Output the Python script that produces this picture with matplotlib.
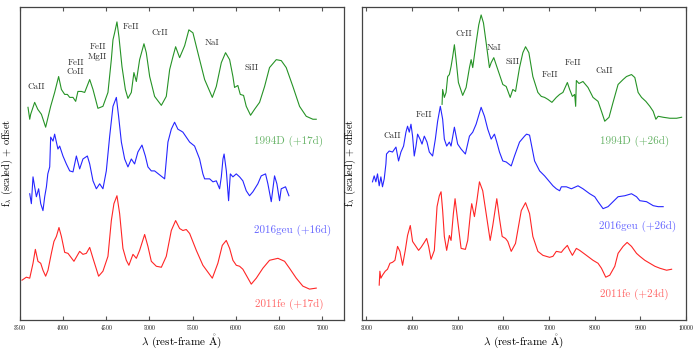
import matplotlib
matplotlib.use("Agg")
import matplotlib.pyplot as plt
import numpy as np

plt.rcParams["font.family"] = ["cmr10", "DejaVu Serif"]
plt.rcParams["mathtext.fontset"] = "cm"
plt.rcParams["axes.formatter.use_mathtext"] = True

# ---- left panel: ~+17d ----
wl_94d_17 = [3597, 3617, 3628, 3674, 3710, 3752, 3801, 3859, 3905, 3951, 3983, 4021, 4052, 4079, 4117,
             4148, 4174, 4214, 4252, 4310, 4348, 4405, 4463, 4521, 4560, 4579, 4598, 4625, 4648, 4683,
             4722, 4752, 4791, 4821, 4849, 4887, 4937, 4964, 5003, 5060, 5138, 5195, 5234, 5272, 5303,
             5349, 5407, 5456, 5503, 5560, 5638, 5727, 5773, 5831, 5880, 5927, 5965, 5984, 6022, 6050,
             6088, 6119, 6169, 6215, 6273, 6331, 6388, 6466, 6524, 6581, 6658, 6735, 6812, 6889, 6928]
f_94d_17 = [214, 202, 207, 219, 212, 207, 194, 215, 229, 245, 232, 227, 227, 224, 224,
            220, 230, 230, 229, 242, 232, 213, 215, 229, 262, 282, 289, 300, 285, 255,
            232, 223, 229, 249, 240, 262, 278, 269, 245, 225, 216, 225, 252, 265, 275,
            264, 276, 292, 289, 269, 242, 224, 235, 259, 269, 262, 245, 234, 236, 227,
            226, 215, 206, 212, 219, 235, 254, 262, 261, 254, 235, 215, 205, 202, 202]

wl_16geu_16 = [3617, 3636, 3655, 3674, 3694, 3720, 3744, 3770, 3790, 3810, 3826, 3848, 3859, 3886, 3905,
               3925, 3943, 3963, 4001, 4040, 4079, 4117, 4156, 4194, 4232, 4283, 4310, 4348, 4387, 4425,
               4463, 4502, 4541, 4579, 4618, 4644, 4676, 4714, 4752, 4791, 4829, 4867, 4914, 4953, 4983,
               5022, 5060, 5176, 5214, 5253, 5291, 5329, 5369, 5387, 5465, 5522, 5580, 5618, 5638, 5696,
               5734, 5773, 5811, 5831, 5850, 5863, 5889, 5915, 5935, 5965, 6004, 6042, 6080, 6119, 6157,
               6196, 6253, 6292, 6342, 6369, 6408, 6446, 6473, 6504, 6523, 6573, 6612]
f_16geu_16 = [127, 117, 144, 134, 124, 132, 117, 110, 124, 134, 147, 154, 184, 180, 187,
              179, 172, 175, 165, 157, 150, 149, 165, 152, 162, 165, 157, 140, 132, 137,
              132, 150, 185, 215, 224, 205, 179, 162, 154, 162, 157, 169, 176, 165, 154,
              150, 150, 142, 179, 192, 199, 192, 190, 189, 179, 175, 162, 147, 142, 142,
              139, 140, 132, 144, 162, 167, 150, 120, 147, 144, 147, 144, 140, 130, 125,
              129, 137, 145, 147, 137, 119, 145, 137, 120, 132, 134, 125]

wl_11fe_17 = [3528, 3578, 3617, 3655, 3682, 3712, 3744, 3770, 3801, 3828, 3867, 3897, 3925, 3955, 3983,
              4021, 4059, 4128, 4194, 4232, 4271, 4310, 4348, 4413, 4463, 4521, 4560, 4590, 4625, 4656,
              4694, 4733, 4763, 4810, 4849, 4887, 4945, 4983, 5022, 5080, 5138, 5195, 5253, 5303, 5349,
              5387, 5426, 5465, 5542, 5618, 5727, 5791, 5842, 5888, 5927, 5965, 6004, 6042, 6080, 6119,
              6177, 6235, 6311, 6388, 6485, 6562, 6619, 6697, 6773, 6850, 6928]
f_11fe_17 = [40, 43, 42, 57, 71, 59, 57, 50, 44, 50, 67, 79, 84, 93, 84,
             68, 67, 59, 69, 66, 67, 73, 62, 44, 49, 64, 100, 117, 125, 107,
             72, 60, 55, 66, 62, 70, 86, 74, 59, 54, 53, 64, 90, 100, 92,
             90, 91, 87, 70, 55, 42, 57, 75, 80, 72, 60, 55, 54, 51, 45,
             36, 42, 52, 60, 62, 59, 52, 42, 34, 31, 32]

# ---- right panel: ~+25d ----
wl_94d_26 = [4656, 4669, 4706, 4744, 4779, 4816, 4853, 4889, 4926, 4963, 5014, 5108, 5183, 5256, 5293,
             5328, 5402, 5460, 5512, 5563, 5622, 5694, 5732, 5789, 5855, 5914, 5987, 6061, 6149, 6206,
             6266, 6353, 6426, 6485, 6558, 6645, 6755, 6830, 6902, 6975, 7063, 7159, 7232, 7304, 7401,
             7451, 7511, 7561, 7583, 7598, 7656, 7743, 7853, 7963, 8073, 8148, 8220, 8314, 8402, 8512,
             8622, 8696, 8806, 8879, 8951, 9026, 9120, 9208, 9281, 9340, 9390, 9500, 9647, 9794, 9904]
f_94d_26 = [217, 232, 224, 229, 245, 247, 255, 265, 277, 262, 239, 226, 234, 254, 262,
            254, 279, 297, 307, 299, 279, 254, 259, 264, 255, 247, 237, 235, 224, 232,
            230, 254, 269, 275, 269, 245, 229, 225, 224, 222, 219, 224, 227, 229, 239,
            232, 225, 227, 215, 241, 238, 240, 234, 224, 220, 210, 200, 204, 219, 237,
            242, 245, 247, 244, 229, 224, 220, 215, 210, 202, 205, 204, 203, 203, 204]

wl_16geu_26 = [3132, 3169, 3206, 3242, 3279, 3316, 3351, 3389, 3426, 3439, 3498, 3571, 3646, 3703, 3755,
               3813, 3865, 3900, 3938, 3975, 4010, 4047, 4085, 4120, 4173, 4217, 4267, 4326, 4377, 4449,
               4509, 4559, 4618, 4669, 4706, 4757, 4816, 4853, 4926, 4998, 5073, 5167, 5256, 5328, 5402,
               5512, 5585, 5657, 5732, 5804, 5855, 5914, 5987, 6061, 6171, 6243, 6353, 6463, 6507, 6573,
               6645, 6683, 6793, 6902, 7012, 7085, 7159, 7232, 7269, 7379, 7489, 7634, 7743, 7891, 8000,
               8073, 8183, 8292, 8402, 8512, 8659, 8806, 8916, 8989, 9136, 9281, 9390, 9500]
f_16geu_26 = [139, 145, 139, 147, 135, 144, 134, 142, 157, 167, 170, 169, 174, 160, 169,
              175, 189, 195, 189, 197, 185, 165, 175, 187, 182, 177, 185, 179, 169, 165,
              182, 200, 215, 202, 182, 175, 179, 175, 194, 177, 172, 167, 185, 189, 197,
              214, 205, 192, 182, 187, 179, 169, 160, 159, 155, 165, 179, 185, 187, 186,
              169, 160, 150, 145, 139, 135, 132, 130, 134, 134, 132, 135, 132, 127, 124,
              119, 112, 114, 119, 124, 125, 127, 124, 120, 119, 115, 114, 114]

wl_11fe_24 = [3279, 3294, 3316, 3351, 3411, 3461, 3514, 3571, 3624, 3681, 3733, 3791, 3850, 3900, 3960,
              4010, 4069, 4142, 4195, 4267, 4318, 4362, 4414, 4487, 4546, 4596, 4634, 4669, 4706, 4757,
              4816, 4853, 4904, 4941, 4998, 5073, 5167, 5218, 5277, 5306, 5365, 5416, 5475, 5547, 5622,
              5710, 5767, 5855, 5914, 5973, 6046, 6096, 6171, 6265, 6391, 6485, 6573, 6645, 6755, 6865,
              7012, 7085, 7159, 7269, 7319, 7401, 7451, 7511, 7598, 7671, 7818, 7963, 8073, 8148, 8242,
              8330, 8440, 8512, 8622, 8710, 8806, 8916, 8989, 9098, 9208, 9318, 9428, 9575, 9685]
f_11fe_24 = [35, 49, 42, 45, 49, 51, 57, 58, 60, 74, 69, 55, 70, 85, 95,
             79, 75, 70, 73, 78, 82, 74, 61, 70, 114, 125, 129, 110, 84, 70,
             85, 80, 107, 122, 100, 72, 71, 80, 107, 117, 104, 119, 139, 130, 107,
             80, 95, 122, 102, 84, 82, 79, 69, 77, 110, 118, 107, 84, 69, 65,
             63, 64, 69, 68, 71, 75, 70, 65, 72, 70, 65, 60, 57, 52, 43,
             45, 54, 67, 74, 78, 74, 67, 64, 60, 57, 54, 52, 50, 51]

# line identifications (wavelength, flux, text)
ids_left = [(3697, 235, "CaII"), (4148, 254, "FeII\nCoII"), (4402, 270, "FeII\nMgII"),
            (4783, 295, "FeII"), (5118, 289, "CrII"), (5719, 279, "NaI"), (6181, 254, "SiII")]
ids_right = [(3562, 185, "CaII"), (4267, 206, "FeII"), (5124, 288, "CrII"), (5804, 274, "NaI"),
             (6200, 260, "SiII"), (7012, 247, "FeII"), (7517, 259, "FeII"), (8220, 251, "CaII")]

fig = plt.figure(figsize=(7, 3.5), dpi=100)
axL = fig.add_axes([0.028, 0.086, 0.4636, 0.894])
axR = fig.add_axes([0.517, 0.086, 0.463, 0.894])

panels = [
    (axL, [(wl_94d_17, f_94d_17, "g", "1994D (+17d)", 7012, 180),
           (wl_16geu_16, f_16geu_16, "b", "2016geu (+16d)", 7100, 90),
           (wl_11fe_17, f_11fe_17, "r", "2011fe (+17d)", 7012, 16)],
     ids_left, (3500, 7250), np.arange(3500, 7001, 500)),
    (axR, [(wl_94d_26, f_94d_26, "g", "1994D (+26d)", 9625, 180),
           (wl_16geu_26, f_16geu_26, "b", "2016geu (+26d)", 9779, 94),
           (wl_11fe_24, f_11fe_24, "r", "2011fe (+24d)", 9625, 26)],
     ids_right, (2900, 10000), np.arange(3000, 10001, 1000)),
]

for ax, spectra, ids, xlim, ticks in panels:
    for wl, f, c, lab, lx, ly in spectra:
        ax.plot(wl, f, color=c, lw=0.8, alpha=0.85)
        ax.text(lx, ly, lab, color=c, alpha=0.6, fontsize=8, ha="right", va="center")
    for x, y, t in ids:
        ax.text(x, y, t, fontsize=6.5, color="#333333", ha="center", va="center", linespacing=1.15)
    ax.set_xlim(*xlim)
    ax.set_ylim(0, 315)
    ax.set_xticks(ticks)
    ax.set_yticks([])
    ax.tick_params(axis="x", direction="in", top=True, labelsize=4, length=3, pad=2, color="#555555")
    for s in ax.spines.values():
        s.set_color("#444444")
        s.set_linewidth(0.9)
    ax.set_xlabel(r"$\lambda$ (rest-frame $\mathring{\mathrm{A}}$)", fontsize=8, labelpad=0)
    ax.set_ylabel(r"f$_\lambda$ (scaled) + offset", fontsize=7.5, labelpad=3)

fig.savefig("out.png", dpi=100)
